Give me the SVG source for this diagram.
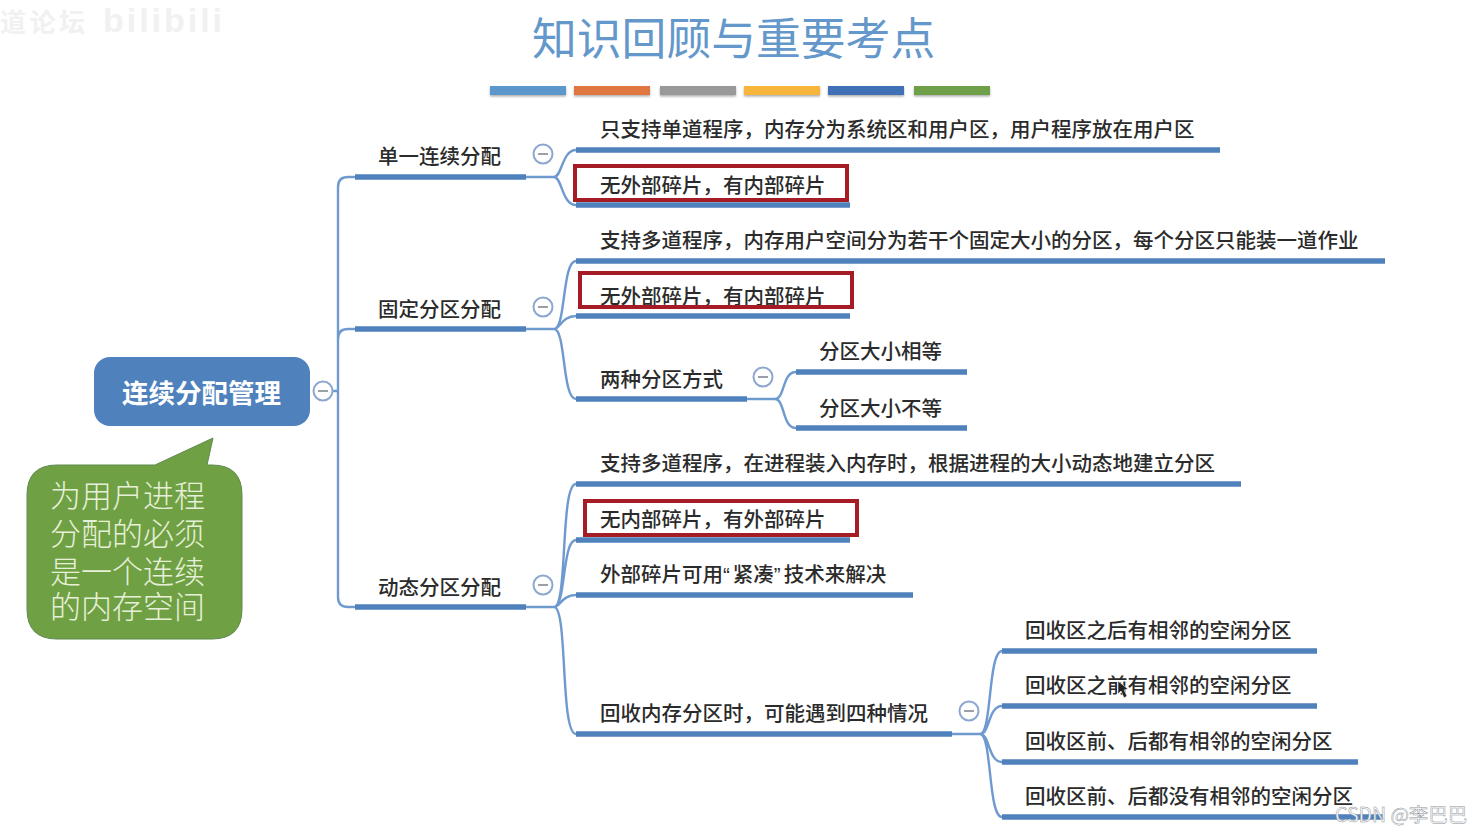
<svg xmlns="http://www.w3.org/2000/svg" width="1482" height="835" viewBox="0 0 1482 835">
<defs><filter id="sh" x="-5%" y="-50%" width="110%" height="220%"><feDropShadow dx="0" dy="1.5" stdDeviation="1.2" flood-color="#555" flood-opacity=".5"/></filter></defs>
<style>
text{font-family:"Noto Sans CJK SC","Liberation Sans",sans-serif}
.t{font-size:20.5px;fill:#2b2b2b;font-weight:500}
.q{font-family:"Liberation Sans",sans-serif;letter-spacing:3px}
.bar{stroke:#4f81bd;stroke-width:5.5;fill:none}
.c{stroke:#6f9acf;stroke-width:2.4;fill:none}
.red{fill:none;stroke:#a61c24;stroke-width:4}
.col{fill:#fff;stroke:#8ba7cf;stroke-width:2}
.min{stroke:#9a9fa8;stroke-width:2}
.tb{height:9px;y:86px;width:76px;filter:url(#sh)}
</style>
<rect width="1482" height="835" fill="#fff"/>
<g id="watermark-top" fill="#f1f1f1">
<text x="0" y="32" font-size="26" font-weight="700" textLength="85">道论坛</text>
<text x="103" y="32" font-size="34" font-weight="700" textLength="119" style="font-family:'Liberation Sans',sans-serif">bilibili</text>
</g>
<g id="title">
<text x="532" y="55" font-size="44.8" fill="#6498cb">知识回顾与重要考点</text>
<rect class="tb" x="490" fill="#5b97cb"/><rect class="tb" x="574" fill="#e07640"/><rect class="tb" x="660" fill="#999999"/><rect class="tb" x="744" fill="#f7b53b"/><rect class="tb" x="828" fill="#3f6fb5"/><rect class="tb" x="914" fill="#6f9f48"/>
</g>
<g id="connectors">
<path class="c" d="M332 391H338M355 177H348Q338 177 338 187V597Q338 607 348 607H355M338 339Q338 329 348 329H355"/>
<path class="c" d="M526 177H554C562 177 562 150 576 150M554 177C562 177 562 205 576 205"/>
<path class="c" d="M526 329H554C566 329 562 261 576 261M554 329C560 329 562 316 576 316M554 329C566 329 562 399 576 399"/>
<path class="c" d="M747 399H775C785 399 782 372 796 372M775 399C785 399 782 428 796 428"/>
<path class="c" d="M526 607H554C568 607 560 484 576 484M554 607C566 607 562 540 576 540M554 607C560 607 562 595 576 595M554 607C568 607 560 734 576 734"/>
<path class="c" d="M952 734H980C992 734 988 651 1002 651M980 734C990 734 988 706 1002 706M980 734C990 734 988 762 1002 762M980 734C992 734 988 817 1002 817"/>
</g>
<g id="root">
<rect x="94" y="357" width="216" height="69" rx="16" fill="#4f81bd"/>
<text x="122" y="403" font-size="26.5" font-weight="700" fill="#fff">连续分配管理</text>
<circle class="col" cx="323" cy="391" r="9.5"/><path class="min" d="M318 391H328"/>
</g>
<g id="note">
<path d="M57 465H155L213 438L207 465H212Q242 465 242 495V609Q242 639 212 639H57Q27 639 27 609V495Q27 465 57 465Z" fill="#70a044" stroke="#5f8a52"/>
<text font-size="31" fill="#e6f0d8" font-weight="300"><tspan x="50" y="507">为用户进程</tspan><tspan x="50" y="545">分配的必须</tspan><tspan x="50" y="583">是一个连续</tspan><tspan x="50" y="618">的内存空间</tspan></text>
</g>
<g id="n1"><path class="bar" d="M355 177H526"/><text class="t" x="378" y="164">单一连续分配</text><circle class="col" cx="543" cy="154" r="9.5"/><path class="min" d="M538 154H548"/></g>
<g id="n1a"><path class="bar" d="M576 150H1220"/><text class="t" x="600" y="137">只支持单道程序&#xFF0C;内存分为系统区和用户区&#xFF0C;用户程序放在用户区</text></g>
<g id="n1b"><path class="bar" d="M576 205H850"/><text class="t" x="600" y="193">无外部碎片&#xFF0C;有内部碎片</text><rect class="red" x="575" y="166" width="272" height="34"/></g>
<g id="n2"><path class="bar" d="M355 329H526"/><text class="t" x="378" y="317">固定分区分配</text><circle class="col" cx="543" cy="307" r="9.5"/><path class="min" d="M538 307H548"/></g>
<g id="n2a"><path class="bar" d="M576 261H1385"/><text class="t" x="600" y="248">支持多道程序&#xFF0C;内存用户空间分为若干个固定大小的分区&#xFF0C;每个分区只能装一道作业</text></g>
<g id="n2b"><path class="bar" d="M576 316H850"/><text class="t" x="600" y="304">无外部碎片&#xFF0C;有内部碎片</text><rect class="red" x="580" y="273" width="272" height="34"/></g>
<g id="n2c"><path class="bar" d="M576 399H747"/><text class="t" x="600" y="387">两种分区方式</text><circle class="col" cx="763" cy="377" r="9.5"/><path class="min" d="M758 377H768"/></g>
<g id="n2c1"><path class="bar" d="M796 372H967"/><text class="t" x="819" y="359">分区大小相等</text></g>
<g id="n2c2"><path class="bar" d="M796 428H967"/><text class="t" x="819" y="416">分区大小不等</text></g>
<g id="n3"><path class="bar" d="M355 607H526"/><text class="t" x="378" y="595">动态分区分配</text><circle class="col" cx="543" cy="585" r="9.5"/><path class="min" d="M538 585H548"/></g>
<g id="n3a"><path class="bar" d="M576 484H1241"/><text class="t" x="600" y="471">支持多道程序&#xFF0C;在进程装入内存时&#xFF0C;根据进程的大小动态地建立分区</text></g>
<g id="n3b"><path class="bar" d="M576 540H850"/><text class="t" x="600" y="527">无内部碎片&#xFF0C;有外部碎片</text><rect class="red" x="585" y="501" width="272" height="34"/></g>
<g id="n3c"><path class="bar" d="M576 595H913"/><text class="t" x="600" y="582">外部碎片可用<tspan class="q">“</tspan>紧凑<tspan class="q">”</tspan>技术来解决</text></g>
<g id="n3d"><path class="bar" d="M576 734H952"/><text class="t" x="600" y="721">回收内存分区时&#xFF0C;可能遇到四种情况</text><circle class="col" cx="969" cy="711" r="9.5"/><path class="min" d="M964 711H974"/></g>
<g id="n3d1"><path class="bar" d="M1002 651H1317"/><text class="t" x="1025" y="638">回收区之后有相邻的空闲分区</text></g>
<g id="n3d2"><path class="bar" d="M1002 706H1317"/><text class="t" x="1025" y="693">回收区之前有相邻的空闲分区</text></g>
<g id="n3d3"><path class="bar" d="M1002 762H1358"/><text class="t" x="1025" y="749">回收区前、后都有相邻的空闲分区</text></g>
<g id="n3d4"><path class="bar" d="M1002 817H1384"/><text class="t" x="1025" y="804">回收区前、后都没有相邻的空闲分区</text></g>
<path id="cursor" d="M1118 681L1118 694L1121 691L1124 698L1127 696L1124 690L1128 689Z" fill="#222" stroke="#fff" stroke-width=".6"/>
<text id="watermark-csdn" x="1335" y="822" font-size="19.5" fill="#fff" stroke="#8e9399" stroke-width=".5">CSDN @李巴巴</text>
</svg>
